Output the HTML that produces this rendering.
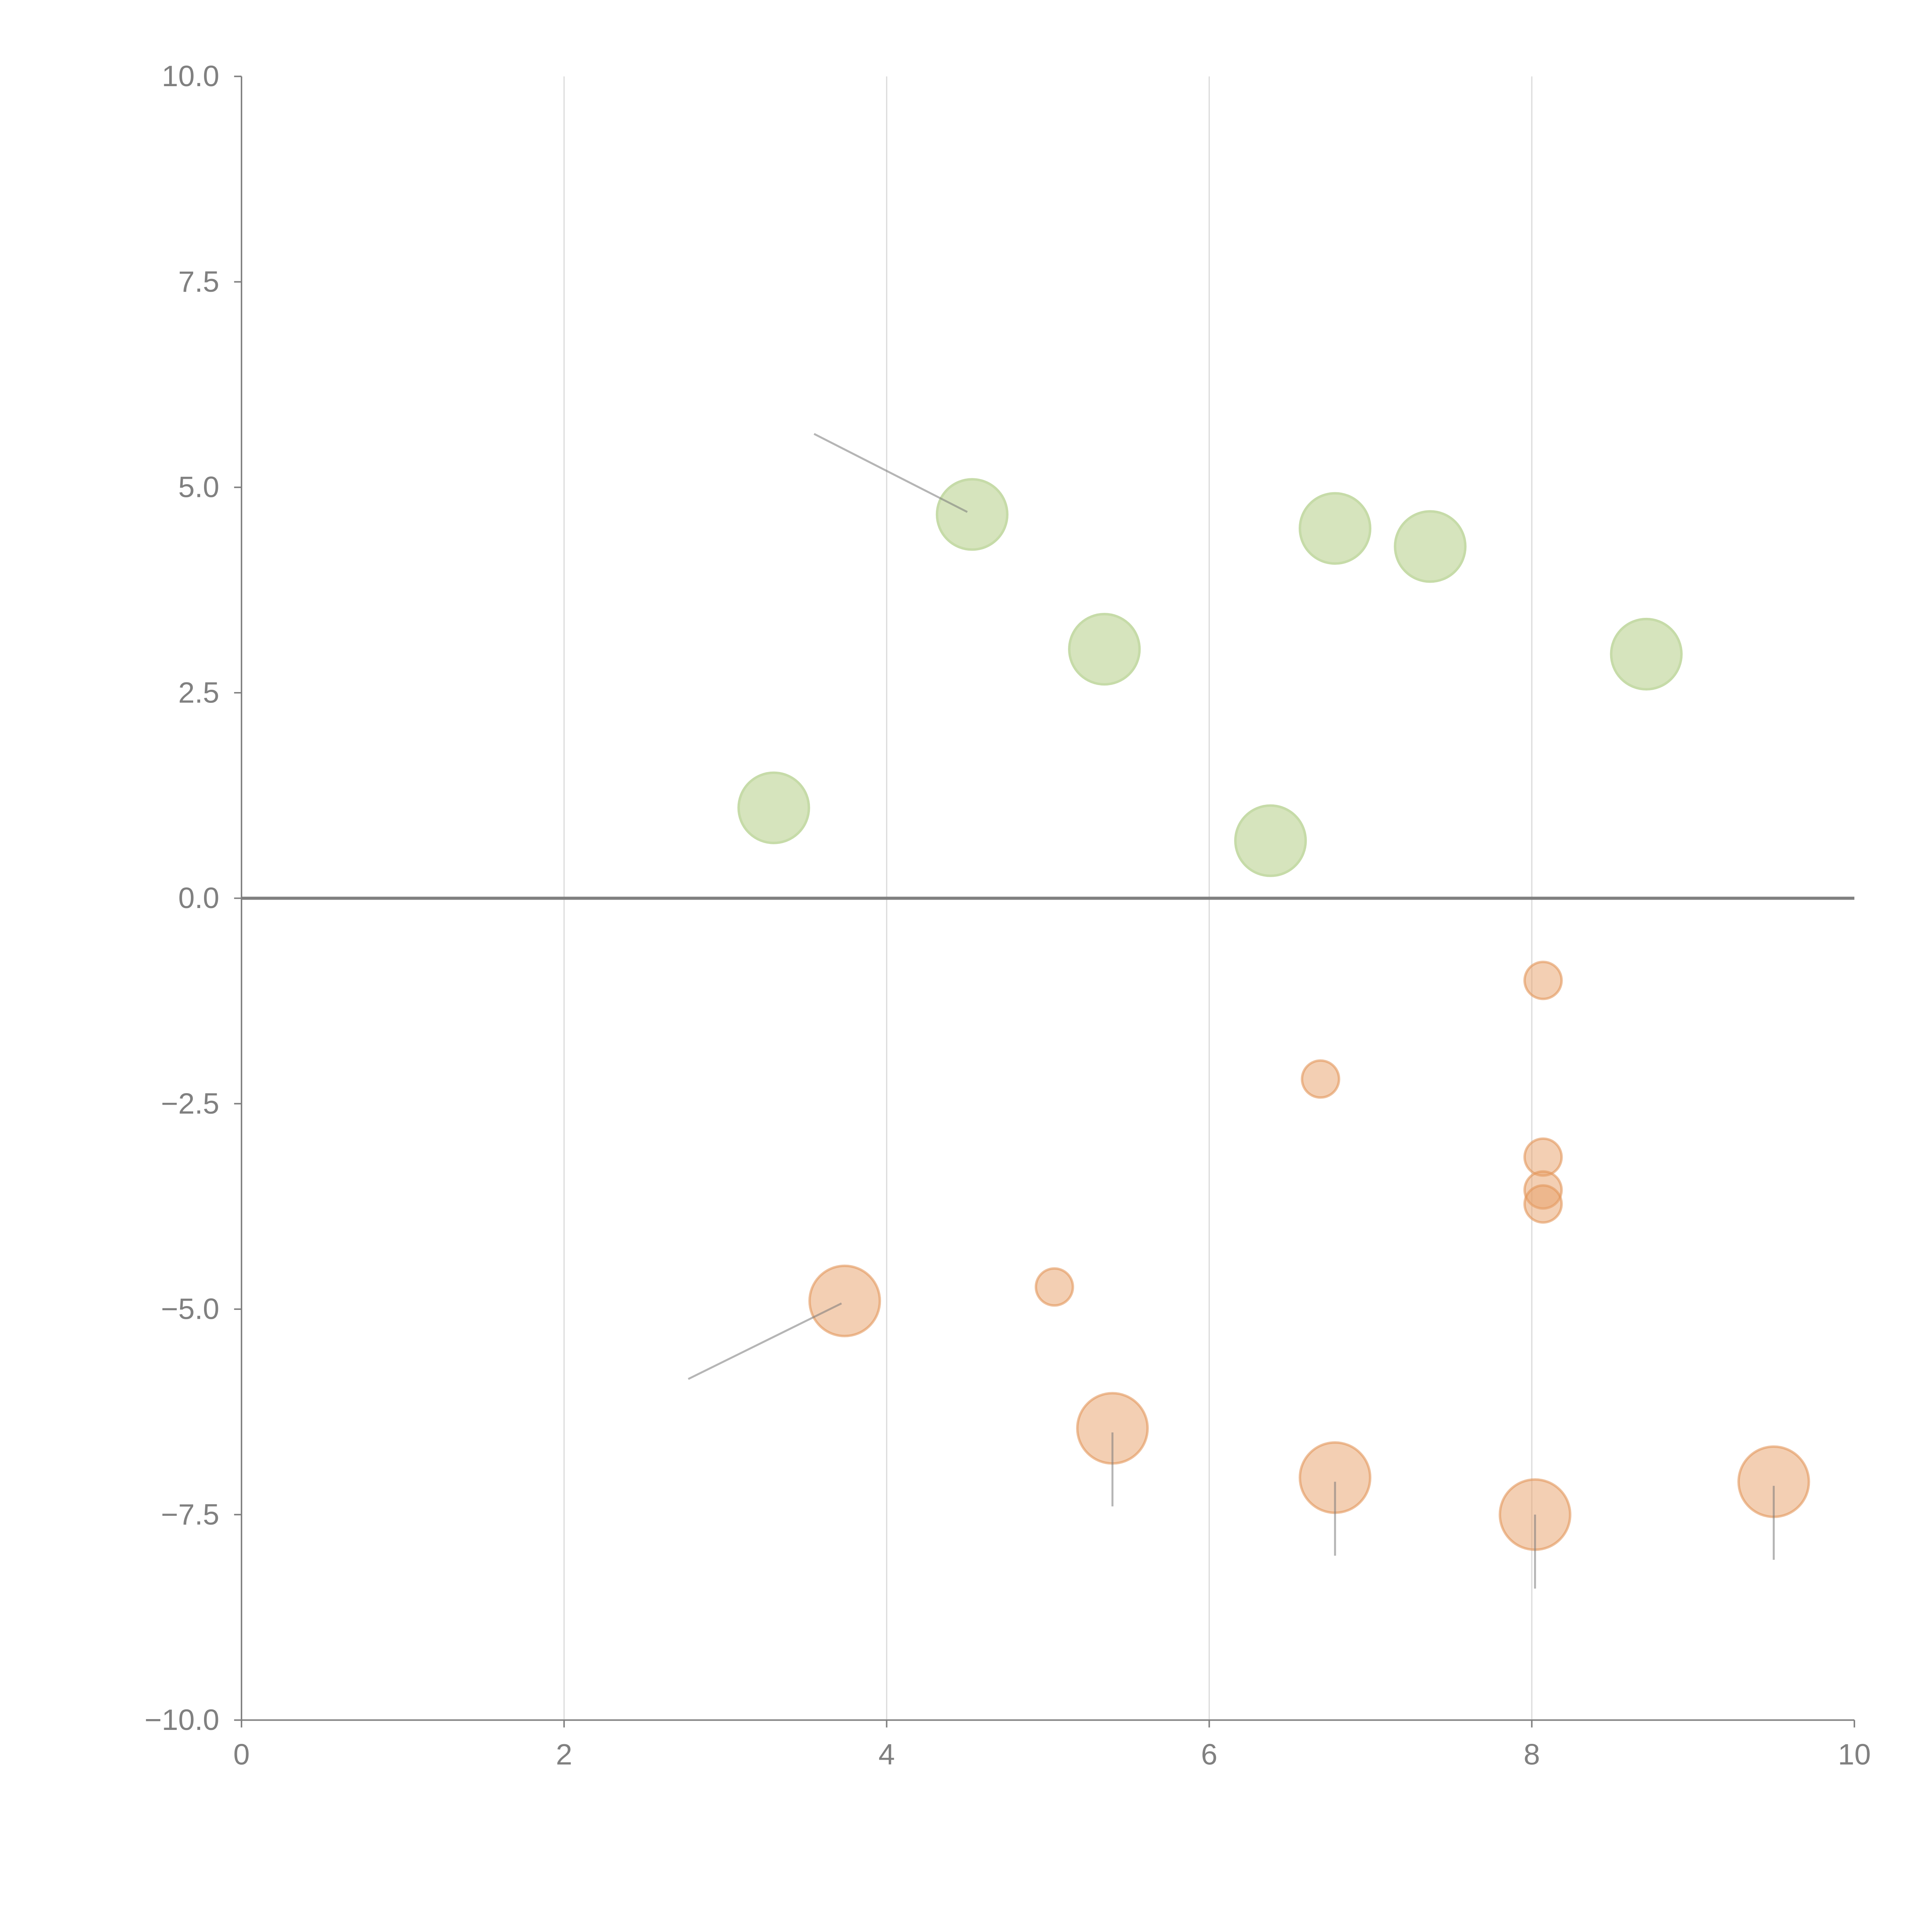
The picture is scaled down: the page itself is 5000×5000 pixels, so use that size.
<!DOCTYPE html>
<html><head><meta charset="utf-8"><style>html,body{margin:0;padding:0;background:#fff}svg{display:block}</style></head>
<body>
<svg id="chart" width="5000" height="5000" viewBox="0 0 1568 1568" xmlns="http://www.w3.org/2000/svg" font-family="Liberation Sans, sans-serif">
<g id="grid"></g>
<g id="axes"></g>
<g id="marks"></g>
<g id="leaders"></g>
</svg>
<script>
const xTicks=[0,2,4,6,8,10];
const yTicks=[10,7.5,5,2.5,0,-2.5,-5,-7.5,-10];
const yTickLabels=["10.0","7.5","5.0","2.5","0.0","\u22122.5","\u22125.0","\u22127.5","\u221210.0"];
const greenX=[3.3,4.53,5.35,6.38,6.78,7.37,8.71];
const greenY=[1.1,4.67,3.03,0.7,4.5,4.28,2.97];
const orangeBigX=[3.74,5.4,6.78,8.02,9.5];
const orangeBigY=[-4.9,-6.45,-7.05,-7.5,-7.1];
const orangeSmallX=[8.07,6.69,8.07,8.07,8.07,5.04];
const orangeSmallY=[-1.0,-2.2,-3.15,-3.55,-3.72,-4.73];
const leaderX1=[3.55,2.77,5.4,6.78,8.02,9.5];
const leaderY1=[5.65,-5.85,-6.5,-7.1,-7.5,-7.15];
const leaderX2=[4.5,3.72,5.4,6.78,8.02,9.5];
const leaderY2=[4.7,-4.93,-7.4,-8.0,-8.4,-8.05];
const NS="http://www.w3.org/2000/svg";
const sx=v=>196+(1505-196)*v/10;
const sy=v=>729-(729-62)*v/10;
function mk(p,t,a){const e=document.createElementNS(NS,t);for(const k in a)e.setAttribute(k,a[k]);p.appendChild(e);return e;}
const grid=document.getElementById('grid'),axes=document.getElementById('axes'),leaders=document.getElementById('leaders'),marks=document.getElementById('marks');
xTicks.forEach(t=>{
 if(t>0&&t<10){const g=mk(grid,'line',{x1:sx(t),x2:sx(t),y1:sy(10),y2:sy(-10),stroke:'#dcdcdc','stroke-width':1});
 
 }
 const tk=mk(axes,'line',{x1:sx(t),x2:sx(t),y1:sy(-10),y2:sy(-10)+6,stroke:'#808080','stroke-width':1.2});
 
 
 const l=mk(axes,'text',{x:sx(t),y:sy(-10)+36,'text-anchor':'middle','font-size':24,fill:'#808080'});l.textContent=t;
 
 
});
yTicks.forEach((t,i)=>{
 const tk=mk(axes,'line',{x1:sx(0)-6,x2:sx(0),y1:sy(t),y2:sy(t),stroke:'#808080','stroke-width':1.2});
 
 
 const l=mk(axes,'text',{x:sx(0)-18,y:sy(t)+8,'text-anchor':'end','font-size':24,fill:'#808080'});l.textContent=yTickLabels[i];
 
 
});
const ya=mk(axes,'line',{x1:sx(0),x2:sx(0),y1:sy(10),y2:sy(-10),stroke:'#808080','stroke-width':1.2});


const xa=mk(axes,'line',{x1:sx(0),x2:sx(10),y1:sy(-10),y2:sy(-10),stroke:'#808080','stroke-width':1.2});


const zl=mk(axes,'line',{x1:sx(0),x2:sx(10),y1:sy(0),y2:sy(0),stroke:'#808080','stroke-width':2.5});


greenX.forEach((x,i)=>{const c=mk(marks,'circle',{cx:sx(x),cy:sy(greenY[i]),r:28.5,fill:'#d6e4bd',stroke:'#c6dba8','stroke-width':2});
 
 });
orangeBigX.forEach((x,i)=>{const c=mk(marks,'circle',{cx:sx(x),cy:sy(orangeBigY[i]),r:28.5,fill:'rgba(232,160,104,0.5)',stroke:'rgba(226,150,90,0.6)','stroke-width':2});
 
 });
orangeSmallX.forEach((x,i)=>{const c=mk(marks,'circle',{cx:sx(x),cy:sy(orangeSmallY[i]),r:15,fill:'rgba(232,160,104,0.5)',stroke:'rgba(226,150,90,0.6)','stroke-width':2});
 
 });
leaderX1.forEach((x,i)=>{const l=mk(leaders,'line',{x1:sx(x),y1:sy(leaderY1[i]),x2:sx(leaderX2[i]),y2:sy(leaderY2[i]),stroke:'rgba(120,120,120,0.55)','stroke-width':1.6});
 
 });
</script>
</body></html>
